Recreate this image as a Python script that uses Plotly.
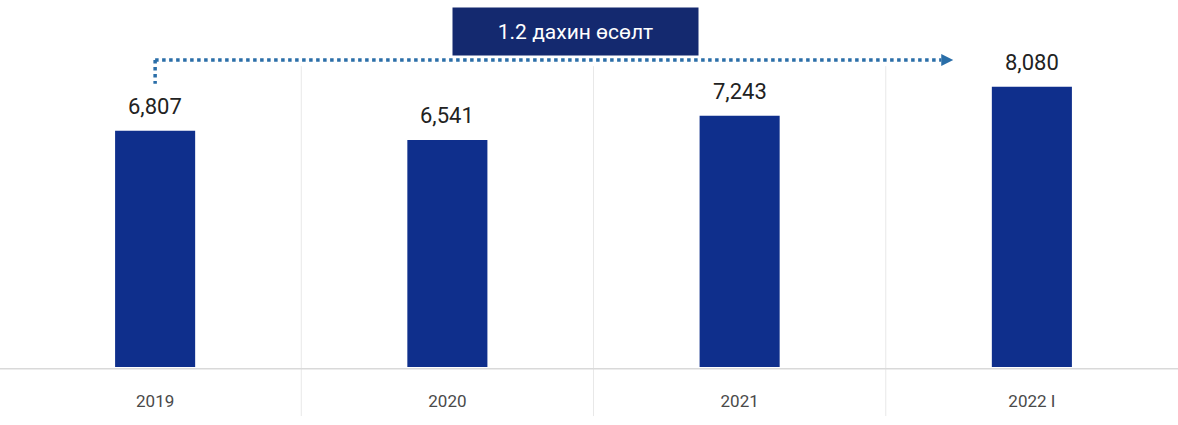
import plotly.graph_objects as go

categories = ["2019", "2020", "2021", "2022 I"]
values = [6807, 6541, 7243, 8080]
value_labels = ["6,807", "6,541", "7,243", "8,080"]
growth_label = "1.2 дахин өсөлт"

BAR = "#0f2f8c"
BOX = "#14296f"
DOT = "#2a6ea8"
FONT = "Roboto, Liberation Sans Narrow, sans-serif"

xs = list(range(len(categories)))

fig = go.Figure(go.Bar(
    x=xs, y=values, marker_color=BAR, marker_line_width=0,
    width=0.274, hoverinfo="skip",
))

annotations = []
for xi, v, t in zip(xs, values, value_labels):
    annotations.append(dict(x=xi, y=v, text=t, showarrow=False, xref="x", yref="y",
                            yanchor="bottom", yshift=10,
                            font=dict(family=FONT, size=22, color="#222222")))

annotations.append(dict(x=1.44, y=1.026, xref="x", yref="paper", text=growth_label,
                        showarrow=False, bgcolor=BOX, width=245, height=47, borderpad=0,
                        font=dict(family=FONT, size=21, color="white"),
                        xanchor="center", yanchor="middle"))

shapes = []
for xv in [0.5, 1.5, 2.5]:
    shapes.append(dict(type="line", xref="x", yref="paper", x0=xv, x1=xv, y0=-0.15, y1=0.92,
                       line=dict(color="#e8e8e8", width=1), layer="below"))
shapes.append(dict(type="line", xref="paper", yref="paper", x0=-0.02, x1=-0.02, y0=-0.15, y1=0.92,
                   line=dict(color="#ececec", width=1), layer="below"))
shapes.append(dict(type="line", xref="paper", yref="paper", x0=-0.01, x1=1.0, y0=-0.005, y1=-0.005,
                   line=dict(color="#d9d9d9", width=1.5)))
shapes.append(dict(type="line", xref="x", yref="paper", x0=0, x1=2.69, y0=0.939, y1=0.939,
                   line=dict(color=DOT, width=3.5, dash="dot")))
shapes.append(dict(type="line", xref="x", yref="paper", x0=0, x1=0, y0=0.939, y1=0.866,
                   line=dict(color=DOT, width=3.5, dash="dot")))
shapes.append(dict(type="path", xref="x", yref="paper", xsizemode="pixel", ysizemode="pixel",
                   xanchor=2.69, yanchor=0.939, path="M0,-6 L12,0 L0,6 Z",
                   fillcolor=DOT, line=dict(width=0)))

fig.update_layout(
    width=1178, height=425,
    margin=dict(l=9, r=0, t=40, b=58),
    paper_bgcolor="white", plot_bgcolor="white",
    showlegend=False,
    xaxis=dict(range=[-0.5, 3.5], tickvals=xs, ticktext=categories, automargin=False,
               showgrid=False, zeroline=False, showline=False,
               ticks="", ticklabelstandoff=22,
               tickfont=dict(family=FONT, size=17, color="#4a4a4a")),
    yaxis=dict(range=[0, 9424], visible=False, showgrid=False, zeroline=False,
               automargin=False),
    annotations=annotations,
    shapes=shapes,
)

fig.write_html("out.html", config={"displayModeBar": False},
               post_script="document.body.style.margin='0';document.body.style.overflow='hidden';")
